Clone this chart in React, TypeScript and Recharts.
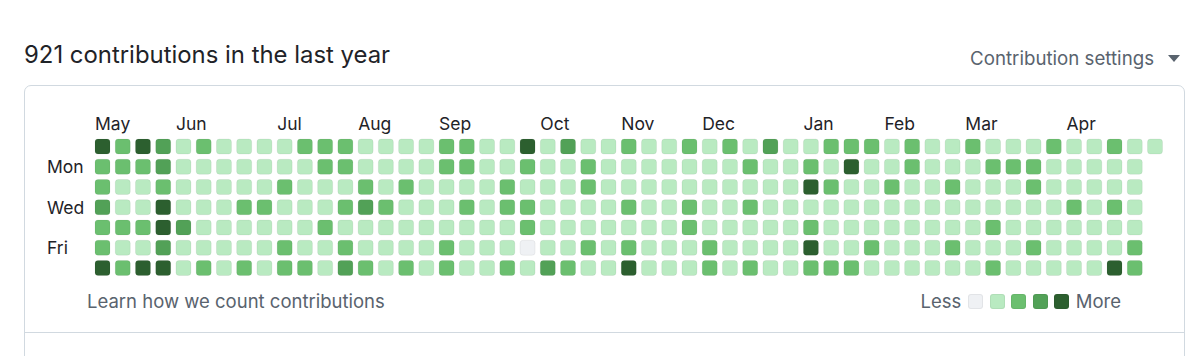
import React from "react";
import { ScatterChart, Scatter, XAxis, YAxis } from "recharts";

// contribution level per week column (0 = none ... 4 = most), one list per weekday
const sunLevels = [4, 2, 4, 3, 1, 2, 1, 1, 1, 1, 2, 2, 2, 1, 1, 1, 1, 2, 2, 1, 1, 4, 1, 3, 1, 1, 2, 1, 1, 2, 1, 2, 1, 3, 1, 1, 2, 2, 2, 1, 2, 1, 1, 2, 1, 1, 1, 2, 1, 1, 2, 1, 1];
const monLevels = [2, 2, 2, 3, 1, 1, 1, 1, 1, 1, 1, 2, 2, 1, 1, 1, 1, 2, 2, 1, 1, 2, 1, 1, 2, 1, 1, 1, 1, 1, 1, 1, 2, 1, 1, 2, 1, 4, 1, 1, 2, 1, 1, 1, 2, 2, 2, 1, 1, 1, 1, 1];
const tueLevels = [2, 1, 1, 2, 1, 1, 1, 1, 1, 2, 1, 1, 1, 2, 1, 2, 1, 1, 1, 1, 2, 1, 1, 1, 2, 1, 1, 1, 1, 1, 1, 1, 1, 1, 1, 4, 2, 1, 1, 2, 1, 1, 2, 1, 1, 1, 2, 1, 1, 1, 1, 1];
const wedLevels = [3, 1, 1, 4, 1, 1, 1, 2, 2, 1, 1, 1, 2, 3, 2, 1, 1, 1, 2, 1, 2, 2, 1, 1, 1, 1, 2, 1, 1, 2, 1, 1, 2, 1, 1, 1, 1, 1, 1, 1, 1, 1, 1, 1, 1, 1, 1, 1, 2, 1, 2, 1];
const thuLevels = [2, 2, 2, 4, 3, 1, 1, 1, 1, 1, 1, 2, 1, 1, 1, 1, 1, 1, 1, 1, 1, 2, 1, 1, 1, 1, 1, 1, 1, 2, 1, 1, 1, 1, 1, 2, 1, 1, 1, 1, 1, 1, 1, 1, 2, 1, 1, 1, 1, 1, 1, 1];
const friLevels = [2, 1, 1, 3, 1, 1, 1, 1, 1, 2, 1, 1, 2, 1, 1, 1, 1, 2, 1, 1, 1, 0, 1, 1, 2, 1, 2, 1, 1, 1, 2, 1, 1, 1, 1, 4, 1, 1, 2, 1, 1, 1, 2, 1, 1, 1, 2, 1, 1, 1, 1, 2];
const satLevels = [4, 2, 4, 4, 1, 2, 1, 2, 1, 2, 2, 1, 3, 2, 1, 2, 1, 2, 1, 1, 2, 1, 3, 2, 1, 1, 4, 1, 1, 1, 2, 1, 2, 1, 1, 2, 2, 2, 1, 1, 1, 1, 1, 1, 2, 1, 1, 1, 1, 1, 4, 2];

const dayRows = [sunLevels, monLevels, tueLevels, wedLevels, thuLevels, friLevels, satLevels];
const dayNames = ["Sun", "Mon", "Tue", "Wed", "Thu", "Fri", "Sat"];
const dayTicks = [1, 3, 5];

const monthLabels = ["May", "Jun", "Jul", "Aug", "Sep", "Oct", "Nov", "Dec", "Jan", "Feb", "Mar", "Apr"];
const monthWeeks = [0, 4, 9, 13, 17, 22, 26, 30, 35, 39, 43, 48];

const levelColors = ["#eff1f4", "#b9eac1", "#6bbf6f", "#52a157", "#2c5f2f"];

const cells = dayRows.flatMap((row, day) =>
  row.map((level, week) => ({ week, day, level }))
);

const CELL = 15;
const FONT = "Inter, 'Noto Sans', sans-serif";
const TEXT = "#1f2328";
const MUTED = "#59636e";

function DayCell(props: any) {
  const { cx, cy, payload } = props;
  return (
    <rect
      x={cx - CELL / 2}
      y={cy - CELL / 2}
      width={CELL}
      height={CELL}
      rx={3}
      ry={3}
      fill={levelColors[payload.level]}
      stroke="rgba(31,35,40,0.06)"
      strokeWidth={1}
    />
  );
}

function MonthTick({ x, payload }: any) {
  const label = monthLabels[monthWeeks.indexOf(payload.value)];
  return (
    <text x={x - CELL / 2} y={130} textAnchor="start" fontSize={17.5} fill={TEXT} fontFamily={FONT}>
      {label}
    </text>
  );
}

function DayTick({ y, payload }: any) {
  return (
    <text x={47} y={y} dy="0.36em" textAnchor="start" fontSize={17.5} fill={TEXT} fontFamily={FONT}>
      {dayNames[payload.value]}
    </text>
  );
}

export default function App() {
  return (
    <div
      style={{
        position: "absolute",
        left: 0,
        top: 0,
        width: 1200,
        height: 356,
        overflow: "hidden",
        background: "#fff",
        fontFamily: FONT,
      }}
    >
      <div style={{ position: "absolute", left: 24, top: 40, fontSize: 23.9, color: TEXT, lineHeight: "30px" }}>
        921 contributions in the last year
      </div>
      <div
        style={{
          position: "absolute",
          right: 20,
          top: 47,
          fontSize: 18.7,
          color: MUTED,
          lineHeight: "24px",
          display: "flex",
          alignItems: "center",
        }}
      >
        Contribution settings
        <svg width={12} height={8} style={{ marginLeft: 14 }}>
          <path d="M0 0 L12 0 L6 7 Z" fill={MUTED} />
        </svg>
      </div>

      <div
        style={{
          position: "absolute",
          left: 24,
          top: 85,
          width: 1159,
          height: 320,
          border: "1px solid #d1d9e0",
          borderRadius: 7,
        }}
      />
      <div style={{ position: "absolute", left: 25, top: 332, width: 1159, height: 1, background: "#d1d9e0" }} />

      <div style={{ position: "absolute", left: 0, top: 0 }}>
        <ScatterChart width={1200} height={356} margin={{ top: 116.5, right: 45, bottom: 88, left: 42.5 }}>
          <XAxis
            type="number"
            dataKey="week"
            orientation="top"
            height={30}
            domain={[0, 52]}
            ticks={monthWeeks}
            interval={0}
            axisLine={false}
            tickLine={false}
            tick={<MonthTick />}
          />
          <YAxis
            type="number"
            dataKey="day"
            width={60}
            domain={[0, 6]}
            reversed
            ticks={dayTicks}
            interval={0}
            axisLine={false}
            tickLine={false}
            tick={<DayTick />}
          />
          <Scatter data={cells} shape={<DayCell />} isAnimationActive={false} />
        </ScatterChart>
      </div>

      <div style={{ position: "absolute", left: 87, top: 289, fontSize: 18.5, color: MUTED, lineHeight: "24px" }}>
        Learn how we count contributions
      </div>
      <div
        style={{
          position: "absolute",
          right: 79,
          top: 289,
          height: 24,
          display: "flex",
          alignItems: "center",
          fontSize: 18.5,
          color: MUTED,
        }}
      >
        <span style={{ marginRight: 7 }}>Less</span>
        {levelColors.map((c) => (
          <span
            key={c}
            style={{
              width: 15,
              height: 15,
              borderRadius: 3,
              background: c,
              boxShadow: "inset 0 0 0 1px rgba(31,35,40,0.06)",
              marginRight: 6.5,
              display: "inline-block",
            }}
          />
        ))}
        <span>More</span>
      </div>
    </div>
  );
}
